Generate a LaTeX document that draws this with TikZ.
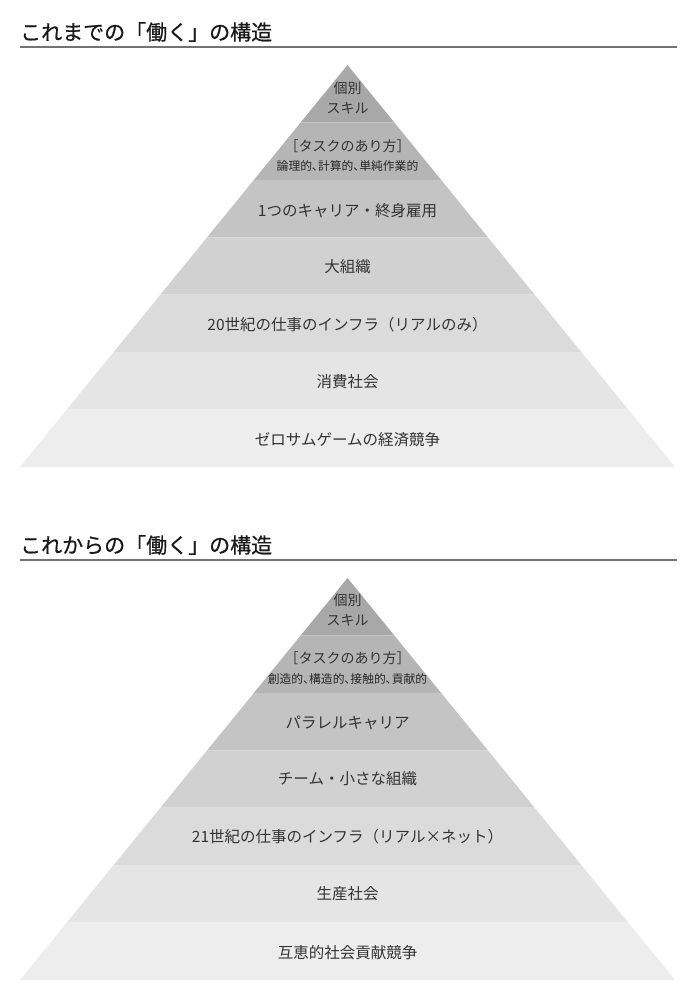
\documentclass[tikz,border=0pt]{standalone}
\usepackage{fontspec}
\setmainfont{Noto Sans CJK JP}
\newfontfamily\headingfont{Noto Sans CJK JP}[FakeBold=0.6]
\newfontfamily\detailfont{Noto Sans CJK JP}[RawFeature=+palt]
\begin{document}
\begin{tikzpicture}[x=1pt,y=-1pt,
  heading/.style={anchor=west,inner sep=0pt,font=\headingfont\fontsize{21}{22}\selectfont,text=black!90},
  rule/.style={draw=black!55,line width=1.2pt},
  lbl/.style={inner sep=0pt,font=\fontsize{15.5}{16}\selectfont,text=black!80},
  apexlbl/.style={inner sep=0pt,font=\fontsize{14}{15}\selectfont,text=black!80},
  tasklbl/.style={inner sep=0pt,font=\fontsize{14}{15}\selectfont,text=black!80},
  detail/.style={inner sep=0pt,font=\detailfont\fontsize{11.8}{12}\selectfont,text=black!85}]
\fill[white] (0,0) rectangle (697,1000);
\useasboundingbox (0,0) rectangle (697,1000);

% seven-layer pyramid: apex at (347.5,65), base at y=467, half base 327.5
\newcommand\layeredpyramid{%
  \foreach \k/\shade in {0/34,1/29,2/23,3/18,4/14,5/10,6/7}{
    \pgfmathsetmacro\ya{65+\k*402/7}
    \pgfmathsetmacro\yb{65+(\k+1)*402/7}
    \pgfmathsetmacro\wa{327.5*\k/7}
    \pgfmathsetmacro\wb{327.5*(\k+1)/7}
    \fill[black!\shade] (347.5-\wa,\ya) -- (347.5+\wa,\ya)
      -- (347.5+\wb,\yb) -- (347.5-\wb,\yb) -- cycle;
  }%
}

% ---- upper chart ----
\node[heading] (titleA) at (20,32) {これまでの「働く」の構造};
\draw[rule] (20,47) -- (677,47);
\layeredpyramid
\node[apexlbl] (a-indiv) at (347.5,88) {個別};
\node[apexlbl] (a-skill) at (347.5,108) {スキル};
\node[tasklbl] (a-task) at (347.5,146) {［タスクのあり方］};
\node[detail] (a-detail) at (347.5,166) {論理的、計算的、単純作業的};
\node[lbl] (a-career) at (347.5,211) {1つのキャリア・終身雇用};
\node[lbl] (a-org) at (347.5,267) {大組織};
\node[lbl] (a-infra) at (347.5,325) {20世紀の仕事のインフラ（リアルのみ）};
\node[lbl] (a-society) at (347.5,382) {消費社会};
\node[lbl] (a-compete) at (347.5,440) {ゼロサムゲームの経済競争};

% ---- lower chart ----
\begin{scope}[shift={(0,513)}]
\node[heading] (titleB) at (20,32) {これからの「働く」の構造};
\draw[rule] (20,47) -- (677,47);
\layeredpyramid
\node[apexlbl] (b-indiv) at (347.5,87) {個別};
\node[apexlbl] (b-skill) at (347.5,107) {スキル};
\node[tasklbl] (b-task) at (347.5,145) {［タスクのあり方］};
\node[detail] (b-detail) at (347.5,166) {創造的、構造的、接触的、貢献的};
\node[lbl] (b-career) at (347.5,210) {パラレルキャリア};
\node[lbl] (b-org) at (347.5,266) {チーム・小さな組織};
\node[lbl] (b-infra) at (347.5,324) {21世紀の仕事のインフラ（リアル×ネット）};
\node[lbl] (b-society) at (347.5,381) {生産社会};
\node[lbl] (b-compete) at (347.5,440) {互恵的社会貢献競争};
\end{scope}
\end{tikzpicture}
\end{document}
